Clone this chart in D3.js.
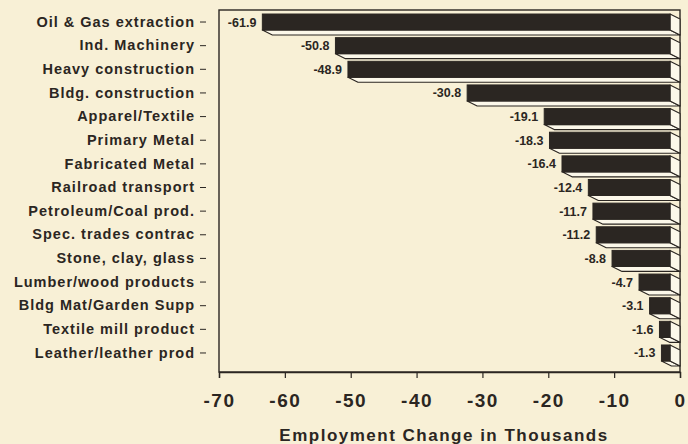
<!DOCTYPE html>
<html>
<head>
<meta charset="utf-8">
<script src="https://cdn.jsdelivr.net/npm/d3@7"></script>
<style>
  html, body { margin: 0; padding: 0; background: #f8f0d6; }
  svg { display: block; }
</style>
</head>
<body>
<svg id="chart" width="688" height="444"></svg>
<script>
// Industries and their employment change (thousands of jobs)
const categories = [
  "Oil & Gas extraction", "Ind. Machinery", "Heavy construction", "Bldg. construction",
  "Apparel/Textile", "Primary Metal", "Fabricated Metal", "Railroad transport",
  "Petroleum/Coal prod.", "Spec. trades contrac", "Stone, clay, glass",
  "Lumber/wood products", "Bldg Mat/Garden Supp", "Textile mill product", "Leather/leather prod"
];
const values = [-61.9, -50.8, -48.9, -30.8, -19.1, -18.3, -16.4, -12.4, -11.7, -11.2, -8.8, -4.7, -3.1, -1.6, -1.3];
const xTicks = [-70, -60, -50, -40, -30, -20, -10, 0];
const xTitle = "Employment Change in Thousands";

const svg = d3.select("#chart");
const ink = "#2b2622";
const bg = "#f8f0d6";
const face = "#fcf8ea";
const font = "'Liberation Sans', Arial, sans-serif";

const plot = { left: 219, right: 680, top: 10, bottom: 372 };
const depth = { dx: 10, dy: 5 };

svg.append("rect").attr("width", 688).attr("height", 444).attr("fill", bg);

const x = d3.scaleLinear().domain([-70, 0]).range([plot.left, plot.right]);
const y = d3.scaleBand().domain(categories).range([plot.top, 365])
  .paddingInner(0.323).paddingOuter(0.17);

// plot frame
svg.append("rect")
  .attr("x", plot.left).attr("y", plot.top)
  .attr("width", plot.right - plot.left).attr("height", plot.bottom - plot.top)
  .attr("fill", "none").attr("stroke", ink).attr("stroke-width", 1.4);

const data = categories.map((c, i) => ({ c, v: values[i] }));

const bars = svg.append("g").selectAll("g").data(data).join("g");

// bottom face of each 3D bar
bars.append("path")
  .attr("d", d => {
    const fx0 = x(d.v) - depth.dx, fx1 = x(0) - depth.dx;
    const fy1 = y(d.c) + y.bandwidth();
    return `M${fx0},${fy1} L${fx1},${fy1} L${fx1 + depth.dx},${fy1 + depth.dy} L${fx0 + depth.dx},${fy1 + depth.dy} Z`;
  })
  .attr("fill", face).attr("stroke", ink).attr("stroke-width", 1.1).attr("stroke-linejoin", "round");

// end face against the zero line
bars.append("path")
  .attr("d", d => {
    const fx1 = x(0) - depth.dx;
    const fy0 = y(d.c), fy1 = y(d.c) + y.bandwidth();
    return `M${fx1},${fy0} L${fx1 + depth.dx},${fy0 + depth.dy} L${fx1 + depth.dx},${fy1 + depth.dy} L${fx1},${fy1} Z`;
  })
  .attr("fill", face).attr("stroke", ink).attr("stroke-width", 1.1).attr("stroke-linejoin", "round");

// front face
bars.append("rect")
  .attr("x", d => x(d.v) - depth.dx)
  .attr("y", d => y(d.c))
  .attr("width", d => x(0) - x(d.v))
  .attr("height", y.bandwidth())
  .attr("fill", ink).attr("stroke", ink).attr("stroke-width", 1);

// value labels
bars.append("text")
  .attr("x", d => x(d.v) - depth.dx - 6)
  .attr("y", d => y(d.c) + y.bandwidth() / 2 + 4.5)
  .attr("text-anchor", "end")
  .attr("font-family", font)
  .attr("font-weight", "bold")
  .attr("font-size", 12.5)
  .attr("fill", ink)
  .text(d => d.v.toFixed(1));

// category axis
const yAxis = svg.append("g")
  .call(d3.axisLeft(y).tickSize(6).tickPadding(5))
  .attr("transform", "translate(206,0)");
yAxis.select(".domain").remove();
yAxis.selectAll(".tick line").attr("stroke", ink).attr("stroke-width", 1);
yAxis.selectAll(".tick text")
  .attr("font-family", font)
  .attr("font-weight", "bold")
  .attr("font-size", 14.5)
  .attr("letter-spacing", "1px")
  .attr("fill", ink);

// value axis
const xAxis = svg.append("g")
  .attr("transform", `translate(0,${plot.bottom})`)
  .call(d3.axisBottom(x).tickValues(xTicks).tickFormat(d3.format("d")).tickSize(6).tickPadding(16));
xAxis.select(".domain").attr("stroke", ink).attr("stroke-width", 1.4);
xAxis.selectAll(".tick line").attr("stroke", ink).attr("stroke-width", 1.2);
xAxis.selectAll(".tick text")
  .attr("font-family", font)
  .attr("font-weight", "bold")
  .attr("font-size", 19)
  .attr("letter-spacing", "1.5px")
  .attr("fill", ink)
  .text(d => d === 0 ? "0" : String(d));

// axis title
svg.append("text")
  .attr("x", 444).attr("y", 441)
  .attr("text-anchor", "middle")
  .attr("font-family", font)
  .attr("font-weight", "bold")
  .attr("font-size", 17)
  .attr("letter-spacing", "1.5px")
  .attr("fill", ink)
  .text(xTitle);
</script>
</body>
</html>
